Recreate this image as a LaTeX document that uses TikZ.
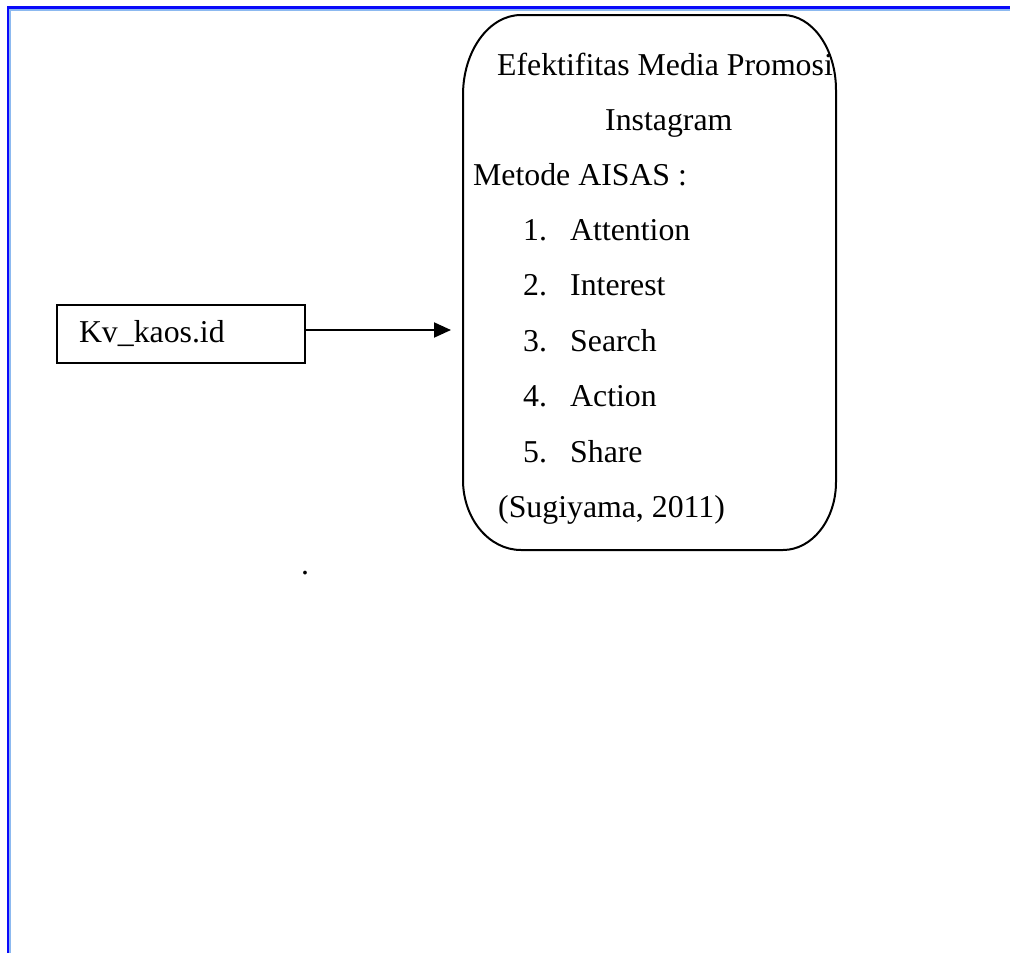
\documentclass[tikz,border=0pt]{standalone}
\usepackage{fontspec}
\setmainfont{Liberation Serif}
\usetikzlibrary{arrows.meta}
\definecolor{frameblue}{RGB}{10,10,250}
\definecolor{framelight}{RGB}{140,185,240}
\tikzset{
  txt/.style={anchor=base west, inner sep=0pt, font=\fontsize{31.8}{38}\selectfont},
  kvbox/.style={draw, line width=1.3pt, minimum height=58pt, text width=204pt, inner xsep=22pt, inner ysep=0pt, align=left, font=\fontsize{31.8}{38}\selectfont},
  bigbox/.style={minimum width=373pt, minimum height=535pt, inner sep=0pt},
  outline/.style={line width=2pt},
  conn/.style={line width=2pt, -{Triangle[length=17pt,width=15pt]}}
}
\begin{document}
\begin{tikzpicture}[x=1pt,y=-1pt]
\useasboundingbox (0,0) rectangle (1010,953);
% page frame
\draw[framelight, line width=2pt] (10,953) -- (10,10) -- (1010,10);
\draw[frameblue, line width=2.5pt] (8,953) -- (8,7.5) -- (1010,7.5);
% left box
\node[kvbox] (kv) at (181,334) {Kv\_kaos.id};
% big rounded box (area node + elliptical-corner outline)
\node[bigbox] (aisas) at (649.5,282.5) {};
\draw[outline] (463,95) arc[start angle=180,end angle=270,x radius=58,y radius=80]
  -- (783,15) arc[start angle=270,end angle=360,x radius=53,y radius=75]
  -- (836,482) arc[start angle=0,end angle=90,x radius=53,y radius=68]
  -- (521,550) arc[start angle=90,end angle=180,x radius=58,y radius=70]
  -- cycle;
\coordinate (aend) at (451,330);
\draw[conn] ([yshift=4pt]kv.east) -- (aend);
% texts
\node[txt] (t1) at (497,75) {Efektifitas Media Promosi};
\node[txt] (t2) at (605,130) {Instagram};
\node[txt] (t3) at (473,185) {Metode AISAS :};
\node[txt] (n1) at (523,240) {1.};
\node[txt] (a1) at (570,240) {Attention};
\node[txt] (n2) at (523,295) {2.};
\node[txt] (a2) at (570,295) {Interest};
\node[txt] (n3) at (523,351) {3.};
\node[txt] (a3) at (570,351) {Search};
\node[txt] (n4) at (523,406) {4.};
\node[txt] (a4) at (570,406) {Action};
\node[txt] (n5) at (523,462) {5.};
\node[txt] (a5) at (570,462) {Share};
\node[txt] (src) at (498,517) {(Sugiyama, 2011)};
\node[txt] (dot) at (301,574) {.};
\end{tikzpicture}
\end{document}
